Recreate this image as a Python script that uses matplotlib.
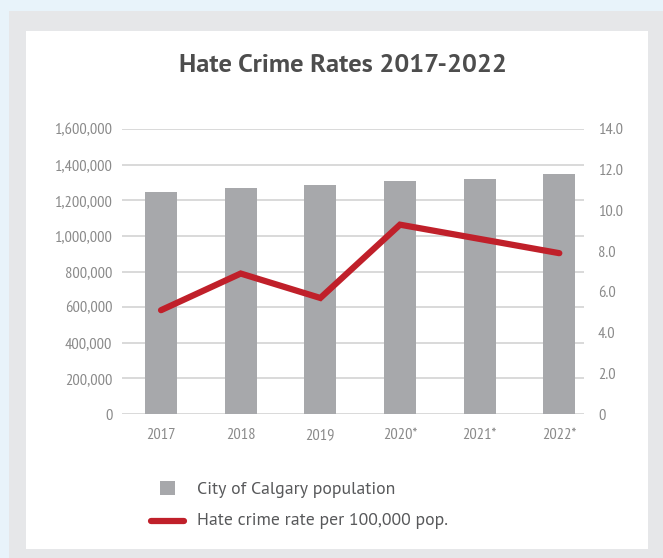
import matplotlib
matplotlib.use('Agg')
import matplotlib.pyplot as plt
from matplotlib.patches import Rectangle
from matplotlib.lines import Line2D

years = ['2017', '2018', '2019', '2020*', '2021*', '2022*']
population = [1246337, 1267344, 1285711, 1306784, 1318000, 1346000]
rate = [5.1, 6.9, 5.7, 9.3, 8.6, 7.9]

pop_ticks = [0, 200000, 400000, 600000, 800000, 1000000, 1200000, 1400000, 1600000]
rate_ticks = [0, 2, 4, 6, 8, 10, 12, 14]

narrow = ['PT Sans Narrow', 'DejaVu Sans']
plain = ['PT Sans', 'DejaVu Sans']

W, H = 663, 558
fig = plt.figure(figsize=(W / 100, H / 100), dpi=100)
fig.patch.set_facecolor('#e8f3fa')

# grey frame and white panel
fig.patches.append(Rectangle((9 / W, 0), 1, 1 - 11 / H, transform=fig.transFigure,
                             facecolor='#e6e7e9', edgecolor='none', zorder=-10))
fig.patches.append(Rectangle((26 / W, 1 - 549 / H), (648 - 26) / W, (549 - 31) / H,
                             transform=fig.transFigure, facecolor='white',
                             edgecolor='none', zorder=-9))

ax = fig.add_axes([122 / W, 1 - 414 / H, (584 - 122) / W, (414 - 129) / H])
ax.set_zorder(5)
ax.set_facecolor('none')
x = list(range(len(years)))
ax.bar(x, population, width=0.40, color='#a7a8ab', zorder=2)
ax.set_ylim(0, 1600000)
ax.set_xlim(-0.49, 5.31)
ax.set_yticks(pop_ticks)
ax.set_yticklabels(['0'] + ['{:,}'.format(v) for v in pop_ticks[1:]])
ax.set_xticks(x)
ax.set_xticklabels(years)
ax.grid(axis='y', color='#d9d9d9', linewidth=1.4, zorder=0)
ax.set_axisbelow(True)
for s in ax.spines.values():
    s.set_visible(False)
ax.tick_params(length=0, colors='#8a8a8a', labelsize=11.8)
ax.tick_params(axis='y', pad=7)
ax.tick_params(axis='x', pad=10)

ax2 = ax.twinx()
ax2.set_zorder(6)
ax2.plot(x, rate, color='#c0202a', linewidth=4.5, solid_capstyle='round',
         solid_joinstyle='miter', zorder=3)
ax2.set_ylim(0, 14)
ax2.set_yticks(rate_ticks)
ax2.set_yticklabels(['0'] + ['{:.1f}'.format(v) for v in rate_ticks[1:]])
for s in ax2.spines.values():
    s.set_visible(False)
ax2.tick_params(length=0, colors='#8a8a8a', labelsize=11.8, pad=10)

for lab in ax.get_xticklabels() + ax.get_yticklabels() + ax2.get_yticklabels():
    lab.set_family(narrow)

fig.text(343 / W, 1 - 65 / H, 'Hate Crime Rates 2017-2022', ha='center', va='center',
         fontsize=19, color='#4d4d4d', fontweight='bold', family=plain)

# legend
fig.patches.append(Rectangle((160 / W, 1 - 495 / H), 15 / W, 14 / H,
                             transform=fig.transFigure, facecolor='#a7a8ab',
                             edgecolor='none'))
fig.lines.append(Line2D([151 / W, 184 / W], [1 - 521 / H, 1 - 521 / H],
                        transform=fig.transFigure, color='#c0202a', linewidth=4.5,
                        solid_capstyle='round'))
fig.text(197 / W, 1 - 490 / H, 'City of Calgary population', ha='left', va='center',
         fontsize=12.8, color='#58595b', family=plain)
fig.text(197 / W, 1 - 521 / H, 'Hate crime rate per 100,000 pop.', ha='left', va='center',
         fontsize=12.8, color='#58595b', family=plain)

fig.savefig('out.png', dpi=100, facecolor=fig.get_facecolor())
